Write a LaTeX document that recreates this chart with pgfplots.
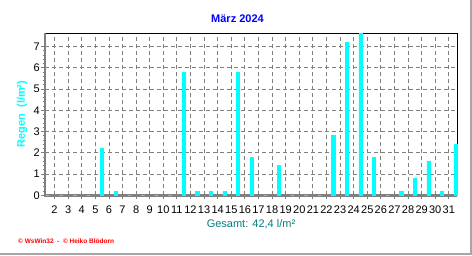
\documentclass[border=0pt]{standalone}
\usepackage{pgfplots}
\pgfplotsset{compat=1.18}
\usepackage{fontspec}
\setmainfont{Liberation Sans}
\definecolor{rcyan}{HTML}{00FFFF}
\definecolor{rblue}{HTML}{0000FF}
\definecolor{rteal}{HTML}{008080}
\definecolor{rred}{HTML}{FF0000}
\definecolor{rgray}{HTML}{808080}
\begin{document}
\begin{tikzpicture}[x=1pt,y=1pt]
\useasboundingbox (0,0) rectangle (472,255);
\fill[white] (0,0) rectangle (472,255);
\draw[rgray!70, line width=1.6pt] (0,0.8) -- (471.2,0.8) -- (471.2,255);
\begin{axis}[
  at={(45pt,59.7pt)}, anchor=south west,
  scale only axis, width=412pt, height=162pt,
  xmin=0.8, xmax=31.1, ymin=0, ymax=7.62,
  axis line style={draw=none},
  xtick={1.5,2.5,...,30.5},
  xticklabels={2,3,4,5,6,7,8,9,10,11,12,13,14,15,16,17,18,19,20,21,22,23,24,25,26,27,28,29,30,31},
  ytick={0,1,...,7},
  minor x tick num=3, minor y tick num=4,
  tick align=outside, tickpos=left,
  major tick length=4pt, minor tick length=2pt,
  tick style={rgray, line width=0.8pt},
  grid=major,
  major grid style={rgray, dash pattern=on 4pt off 3pt, line width=0.8pt},
  tick label style={font=\fontsize{11}{12}\selectfont, black},
  xticklabel style={inner sep=0pt, yshift=-6pt},
  yticklabel style={inner sep=1pt},
  /pgf/number format/assume math mode=true,
  clip=false,
]
\draw[black, line width=0.8pt] (rel axis cs:0,1) -- (rel axis cs:1,1) -- (rel axis cs:1,0);
\draw[rgray, line width=2.4pt] (rel axis cs:0,1) -- (rel axis cs:0,0) -- (rel axis cs:1,0);
\addplot[ybar, bar width=0.24, fill=rcyan, draw=rcyan, line width=0.6pt] coordinates {
(1,0) (2,0) (3,0) (4,0) (5,2.2) (6,0.2) (7,0) (8,0) (9,0) (10,0)
(11,5.8) (12,0.2) (13,0.2) (14,0.2) (15,5.8) (16,1.8) (17,0) (18,1.4) (19,0) (20,0)
(21,0) (22,2.8) (23,7.2) (24,7.6) (25,1.8) (26,0) (27,0.2) (28,0.8) (29,1.6) (30,0.2)
(31,2.4)
};
\end{axis}
\node[text=rblue, font=\fontsize{11}{12}\selectfont\bfseries] at (237.5,236) {März 2024};
\node[text=rcyan, font=\fontsize{11}{12}\selectfont\bfseries, rotate=90] at (22,141) {Regen\ \ (l/m²)};
\node[text=rteal, font=\fontsize{11}{12}\selectfont] at (251,30.5) {Gesamt: 42,4 l/m²};
\node[text=rred, font=\fontsize{6.5}{7}\selectfont\bfseries, anchor=west, inner sep=0pt] at (18,14.3) {© WsWin32\ \ -\ \ © Heiko Blödorn};
\end{tikzpicture}
\end{document}
